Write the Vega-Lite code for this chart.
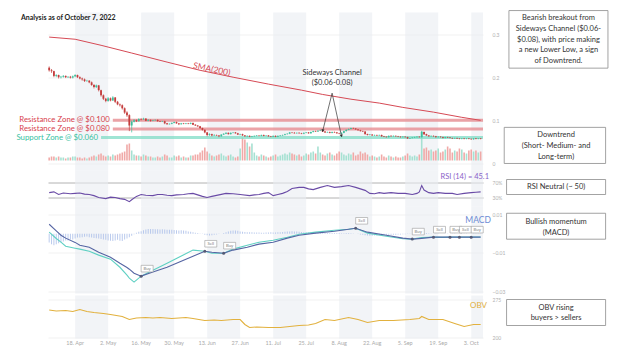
{
"$schema":"https://vega.github.io/schema/vega-lite/v6.json",
"padding":{"left":16,"top":9.5,"right":5,"bottom":5},
"background":"white",
"spacing":0,
"config":{"view":{"stroke":null},"font":"Lato","concat":{"spacing":0},"scale":{"continuousPadding":0},
"axis":{"domain":false,"ticks":false,"labelFontSize":5,"labelColor":"#b0b0b0","labelFont":"Lato","gridColor":"#ebebeb","gridWidth":0.7,"labelPadding":9}},
"datasets":{
"bands":[{"s":"2022-04-18","e":"2022-05-02"},{"s":"2022-05-16","e":"2022-05-30"},{"s":"2022-06-13","e":"2022-06-27"},{"s":"2022-07-11","e":"2022-07-25"},{"s":"2022-08-08","e":"2022-08-22"},{"s":"2022-09-05","e":"2022-09-19"},{"s":"2022-10-03","e":"2022-10-08"}],
"ticks":[{"d":"2022-04-18","t":"18. Apr"},{"d":"2022-05-02","t":"2. May"},{"d":"2022-05-16","t":"16. May"},{"d":"2022-05-30","t":"30. May"},{"d":"2022-06-13","t":"13. Jun"},{"d":"2022-06-27","t":"27. Jun"},{"d":"2022-07-11","t":"11. Jul"},{"d":"2022-07-25","t":"25. Jul"},{"d":"2022-08-08","t":"8. Aug"},{"d":"2022-08-22","t":"22. Aug"},{"d":"2022-09-05","t":"5. Sep"},{"d":"2022-09-19","t":"19. Sep"},{"d":"2022-10-03","t":"3. Oct"}],
"candles":[
{"d":"2022-04-07","o":0.222,"h":0.225,"l":0.213,"c":0.216,"v":3,"m":-0.0045},
{"d":"2022-04-08","o":0.216,"h":0.219,"l":0.210,"c":0.214,"v":4,"m":-0.0055},
{"d":"2022-04-09","o":0.214,"h":0.215,"l":0.200,"c":0.203,"v":4,"m":-0.006},
{"d":"2022-04-10","o":0.203,"h":0.207,"l":0.200,"c":0.205,"v":3,"m":-0.0055},
{"d":"2022-04-11","o":0.205,"h":0.206,"l":0.197,"c":0.200,"v":4,"m":-0.005},
{"d":"2022-04-12","o":0.200,"h":0.203,"l":0.197,"c":0.201,"v":3,"m":-0.0045},
{"d":"2022-04-13","o":0.201,"h":0.205,"l":0.199,"c":0.203,"v":3,"m":-0.004},
{"d":"2022-04-14","o":0.203,"h":0.204,"l":0.198,"c":0.200,"v":2,"m":-0.0035},
{"d":"2022-04-15","o":0.200,"h":0.202,"l":0.198,"c":0.201,"v":3,"m":-0.0035},
{"d":"2022-04-16","o":0.201,"h":0.203,"l":0.197,"c":0.199,"v":3,"m":-0.003},
{"d":"2022-04-17","o":0.199,"h":0.204,"l":0.197,"c":0.202,"v":4,"m":-0.003},
{"d":"2022-04-18","o":0.202,"h":0.207,"l":0.200,"c":0.205,"v":4,"m":-0.0025},
{"d":"2022-04-19","o":0.205,"h":0.206,"l":0.198,"c":0.200,"v":3,"m":-0.002},
{"d":"2022-04-20","o":0.200,"h":0.202,"l":0.195,"c":0.197,"v":3,"m":-0.002},
{"d":"2022-04-21","o":0.197,"h":0.199,"l":0.192,"c":0.195,"v":2,"m":-0.0018},
{"d":"2022-04-22","o":0.195,"h":0.197,"l":0.189,"c":0.191,"v":3,"m":-0.0016},
{"d":"2022-04-23","o":0.191,"h":0.194,"l":0.189,"c":0.192,"v":2,"m":-0.0015},
{"d":"2022-04-24","o":0.192,"h":0.193,"l":0.186,"c":0.188,"v":3,"m":-0.0018},
{"d":"2022-04-25","o":0.188,"h":0.190,"l":0.180,"c":0.182,"v":4,"m":-0.002},
{"d":"2022-04-26","o":0.182,"h":0.184,"l":0.174,"c":0.177,"v":5,"m":-0.0022},
{"d":"2022-04-27","o":0.177,"h":0.183,"l":0.175,"c":0.181,"v":4,"m":-0.0024},
{"d":"2022-04-28","o":0.181,"h":0.182,"l":0.167,"c":0.170,"v":6,"m":-0.0025},
{"d":"2022-04-29","o":0.170,"h":0.171,"l":0.155,"c":0.158,"v":7,"m":-0.0028},
{"d":"2022-04-30","o":0.158,"h":0.160,"l":0.147,"c":0.150,"v":5,"m":-0.003},
{"d":"2022-05-01","o":0.150,"h":0.152,"l":0.142,"c":0.145,"v":4,"m":-0.0032},
{"d":"2022-05-02","o":0.145,"h":0.154,"l":0.143,"c":0.151,"v":5,"m":-0.0035},
{"d":"2022-05-03","o":0.151,"h":0.153,"l":0.144,"c":0.146,"v":4,"m":-0.0036},
{"d":"2022-05-04","o":0.146,"h":0.156,"l":0.145,"c":0.153,"v":6,"m":-0.0038},
{"d":"2022-05-05","o":0.153,"h":0.154,"l":0.140,"c":0.143,"v":5,"m":-0.0035},
{"d":"2022-05-06","o":0.143,"h":0.145,"l":0.135,"c":0.137,"v":6,"m":-0.0032},
{"d":"2022-05-07","o":0.137,"h":0.139,"l":0.132,"c":0.135,"v":7,"m":-0.0036},
{"d":"2022-05-08","o":0.135,"h":0.137,"l":0.125,"c":0.128,"v":8,"m":-0.0038},
{"d":"2022-05-09","o":0.128,"h":0.130,"l":0.115,"c":0.118,"v":9,"m":-0.003},
{"d":"2022-05-10","o":0.118,"h":0.121,"l":0.108,"c":0.112,"v":16,"m":-0.0025},
{"d":"2022-05-11","o":0.112,"h":0.114,"l":0.075,"c":0.088,"v":17,"m":-0.0018},
{"d":"2022-05-12","o":0.088,"h":0.100,"l":0.072,"c":0.097,"v":10,"m":-0.001},
{"d":"2022-05-13","o":0.097,"h":0.103,"l":0.095,"c":0.100,"v":6,"m":-0.0003},
{"d":"2022-05-14","o":0.100,"h":0.102,"l":0.096,"c":0.098,"v":5,"m":0.0005},
{"d":"2022-05-15","o":0.098,"h":0.105,"l":0.097,"c":0.103,"v":5,"m":0.001},
{"d":"2022-05-16","o":0.103,"h":0.105,"l":0.100,"c":0.102,"v":4,"m":0.0013},
{"d":"2022-05-17","o":0.102,"h":0.106,"l":0.101,"c":0.104,"v":6,"m":0.0018},
{"d":"2022-05-18","o":0.104,"h":0.105,"l":0.098,"c":0.099,"v":5,"m":0.0022},
{"d":"2022-05-19","o":0.099,"h":0.103,"l":0.098,"c":0.101,"v":4,"m":0.0024},
{"d":"2022-05-20","o":0.101,"h":0.102,"l":0.097,"c":0.099,"v":4,"m":0.0025},
{"d":"2022-05-21","o":0.099,"h":0.101,"l":0.098,"c":0.100,"v":3,"m":0.0024},
{"d":"2022-05-22","o":0.100,"h":0.102,"l":0.099,"c":0.101,"v":3,"m":0.0023},
{"d":"2022-05-23","o":0.101,"h":0.102,"l":0.097,"c":0.098,"v":4,"m":0.0023},
{"d":"2022-05-24","o":0.098,"h":0.099,"l":0.096,"c":0.097,"v":3,"m":0.0022},
{"d":"2022-05-25","o":0.097,"h":0.099,"l":0.096,"c":0.098,"v":4,"m":0.0023},
{"d":"2022-05-26","o":0.098,"h":0.099,"l":0.091,"c":0.093,"v":6,"m":0.0022},
{"d":"2022-05-27","o":0.093,"h":0.094,"l":0.090,"c":0.091,"v":5,"m":0.0021},
{"d":"2022-05-28","o":0.091,"h":0.093,"l":0.090,"c":0.092,"v":3,"m":0.002},
{"d":"2022-05-29","o":0.092,"h":0.095,"l":0.091,"c":0.094,"v":3,"m":0.002},
{"d":"2022-05-30","o":0.094,"h":0.097,"l":0.093,"c":0.096,"v":5,"m":0.0019},
{"d":"2022-05-31","o":0.096,"h":0.097,"l":0.092,"c":0.093,"v":4,"m":0.0018},
{"d":"2022-06-01","o":0.093,"h":0.094,"l":0.089,"c":0.091,"v":5,"m":0.0017},
{"d":"2022-06-02","o":0.091,"h":0.094,"l":0.090,"c":0.093,"v":3,"m":0.0018},
{"d":"2022-06-03","o":0.093,"h":0.094,"l":0.091,"c":0.092,"v":4,"m":0.0016},
{"d":"2022-06-04","o":0.092,"h":0.094,"l":0.091,"c":0.093,"v":3,"m":0.0015},
{"d":"2022-06-05","o":0.093,"h":0.094,"l":0.091,"c":0.092,"v":3,"m":0.0012},
{"d":"2022-06-06","o":0.092,"h":0.095,"l":0.091,"c":0.094,"v":5,"m":0.001},
{"d":"2022-06-07","o":0.094,"h":0.095,"l":0.089,"c":0.090,"v":5,"m":0.0008},
{"d":"2022-06-08","o":0.090,"h":0.091,"l":0.087,"c":0.088,"v":6,"m":0.0005},
{"d":"2022-06-09","o":0.088,"h":0.089,"l":0.085,"c":0.086,"v":6,"m":0.0003},
{"d":"2022-06-10","o":0.086,"h":0.087,"l":0.080,"c":0.082,"v":8,"m":0.0001},
{"d":"2022-06-11","o":0.082,"h":0.083,"l":0.076,"c":0.078,"v":10,"m":-0.0002},
{"d":"2022-06-12","o":0.078,"h":0.079,"l":0.070,"c":0.072,"v":13,"m":-0.0005},
{"d":"2022-06-13","o":0.072,"h":0.073,"l":0.063,"c":0.066,"v":9,"m":-0.0008},
{"d":"2022-06-14","o":0.066,"h":0.070,"l":0.064,"c":0.068,"v":7,"m":-0.0009},
{"d":"2022-06-15","o":0.068,"h":0.069,"l":0.063,"c":0.065,"v":5,"m":-0.0008},
{"d":"2022-06-16","o":0.065,"h":0.068,"l":0.064,"c":0.066,"v":4,"m":-0.0006},
{"d":"2022-06-17","o":0.066,"h":0.067,"l":0.064,"c":0.065,"v":5,"m":-0.0004},
{"d":"2022-06-18","o":0.065,"h":0.066,"l":0.061,"c":0.063,"v":6,"m":-0.0002},
{"d":"2022-06-19","o":0.063,"h":0.068,"l":0.062,"c":0.067,"v":7,"m":0},
{"d":"2022-06-20","o":0.067,"h":0.070,"l":0.066,"c":0.069,"v":5,"m":0.0004},
{"d":"2022-06-21","o":0.069,"h":0.072,"l":0.068,"c":0.071,"v":4,"m":0.0008},
{"d":"2022-06-22","o":0.071,"h":0.072,"l":0.067,"c":0.068,"v":5,"m":0.0012},
{"d":"2022-06-23","o":0.068,"h":0.072,"l":0.067,"c":0.071,"v":6,"m":0.0015},
{"d":"2022-06-24","o":0.071,"h":0.073,"l":0.070,"c":0.072,"v":4,"m":0.0017},
{"d":"2022-06-25","o":0.072,"h":0.073,"l":0.069,"c":0.070,"v":3,"m":0.0016},
{"d":"2022-06-26","o":0.070,"h":0.071,"l":0.066,"c":0.067,"v":4,"m":0.0015},
{"d":"2022-06-27","o":0.067,"h":0.069,"l":0.065,"c":0.068,"v":12,"m":0.0012},
{"d":"2022-06-28","o":0.068,"h":0.069,"l":0.064,"c":0.065,"v":23,"m":0.001},
{"d":"2022-06-29","o":0.065,"h":0.066,"l":0.062,"c":0.063,"v":21,"m":0.0009},
{"d":"2022-06-30","o":0.063,"h":0.065,"l":0.061,"c":0.064,"v":18,"m":0.0008},
{"d":"2022-07-01","o":0.064,"h":0.065,"l":0.061,"c":0.062,"v":14,"m":0.0007},
{"d":"2022-07-02","o":0.062,"h":0.064,"l":0.061,"c":0.063,"v":17,"m":0.0007},
{"d":"2022-07-03","o":0.063,"h":0.065,"l":0.062,"c":0.064,"v":8,"m":0.0006},
{"d":"2022-07-04","o":0.064,"h":0.066,"l":0.063,"c":0.065,"v":5,"m":0.0006},
{"d":"2022-07-05","o":0.065,"h":0.066,"l":0.063,"c":0.064,"v":4,"m":0.0006},
{"d":"2022-07-06","o":0.064,"h":0.067,"l":0.063,"c":0.066,"v":6,"m":0.0005},
{"d":"2022-07-07","o":0.066,"h":0.067,"l":0.063,"c":0.064,"v":5,"m":0.0005},
{"d":"2022-07-08","o":0.064,"h":0.066,"l":0.063,"c":0.065,"v":4,"m":0.0006},
{"d":"2022-07-09","o":0.065,"h":0.066,"l":0.062,"c":0.063,"v":3,"m":0.0006},
{"d":"2022-07-10","o":0.063,"h":0.064,"l":0.061,"c":0.062,"v":4,"m":0.0007},
{"d":"2022-07-11","o":0.062,"h":0.065,"l":0.061,"c":0.064,"v":5,"m":0.0006},
{"d":"2022-07-12","o":0.064,"h":0.065,"l":0.061,"c":0.062,"v":6,"m":0.0006},
{"d":"2022-07-13","o":0.062,"h":0.065,"l":0.061,"c":0.064,"v":4,"m":0.0007},
{"d":"2022-07-14","o":0.064,"h":0.066,"l":0.063,"c":0.065,"v":5,"m":0.0008},
{"d":"2022-07-15","o":0.065,"h":0.067,"l":0.064,"c":0.066,"v":6,"m":0.0009},
{"d":"2022-07-16","o":0.066,"h":0.069,"l":0.065,"c":0.068,"v":7,"m":0.001},
{"d":"2022-07-17","o":0.068,"h":0.070,"l":0.067,"c":0.069,"v":6,"m":0.0011},
{"d":"2022-07-18","o":0.069,"h":0.073,"l":0.068,"c":0.072,"v":8,"m":0.0012},
{"d":"2022-07-19","o":0.072,"h":0.073,"l":0.070,"c":0.071,"v":7,"m":0.0013},
{"d":"2022-07-20","o":0.071,"h":0.073,"l":0.069,"c":0.070,"v":6,"m":0.0012},
{"d":"2022-07-21","o":0.070,"h":0.072,"l":0.069,"c":0.071,"v":5,"m":0.0011},
{"d":"2022-07-22","o":0.071,"h":0.072,"l":0.069,"c":0.070,"v":6,"m":0.001},
{"d":"2022-07-23","o":0.070,"h":0.071,"l":0.068,"c":0.069,"v":4,"m":0.0009},
{"d":"2022-07-24","o":0.069,"h":0.072,"l":0.068,"c":0.071,"v":5,"m":0.0008},
{"d":"2022-07-25","o":0.071,"h":0.073,"l":0.070,"c":0.072,"v":7,"m":0.0007},
{"d":"2022-07-26","o":0.072,"h":0.073,"l":0.069,"c":0.070,"v":6,"m":0.0006},
{"d":"2022-07-27","o":0.070,"h":0.074,"l":0.069,"c":0.073,"v":8,"m":0.0006},
{"d":"2022-07-28","o":0.073,"h":0.076,"l":0.072,"c":0.075,"v":9,"m":0.0005},
{"d":"2022-07-29","o":0.075,"h":0.076,"l":0.073,"c":0.074,"v":7,"m":0.0005},
{"d":"2022-07-30","o":0.074,"h":0.077,"l":0.073,"c":0.076,"v":14,"m":0.0004},
{"d":"2022-07-31","o":0.076,"h":0.079,"l":0.075,"c":0.077,"v":8,"m":0.0004},
{"d":"2022-08-01","o":0.077,"h":0.078,"l":0.073,"c":0.074,"v":6,"m":0.0004},
{"d":"2022-08-02","o":0.074,"h":0.075,"l":0.071,"c":0.072,"v":5,"m":0.0004},
{"d":"2022-08-03","o":0.072,"h":0.074,"l":0.071,"c":0.073,"v":7,"m":0.0003},
{"d":"2022-08-04","o":0.073,"h":0.074,"l":0.070,"c":0.071,"v":8,"m":0.0003},
{"d":"2022-08-05","o":0.071,"h":0.074,"l":0.070,"c":0.073,"v":6,"m":0.0003},
{"d":"2022-08-06","o":0.073,"h":0.074,"l":0.071,"c":0.072,"v":5,"m":0.0004},
{"d":"2022-08-07","o":0.072,"h":0.073,"l":0.069,"c":0.070,"v":7,"m":0.0003},
{"d":"2022-08-08","o":0.070,"h":0.071,"l":0.068,"c":0.069,"v":9,"m":0.0003},
{"d":"2022-08-09","o":0.069,"h":0.072,"l":0.068,"c":0.071,"v":8,"m":0.0002},
{"d":"2022-08-10","o":0.071,"h":0.076,"l":0.070,"c":0.075,"v":6,"m":0.0002},
{"d":"2022-08-11","o":0.075,"h":0.079,"l":0.074,"c":0.078,"v":5,"m":0.0003},
{"d":"2022-08-12","o":0.078,"h":0.081,"l":0.077,"c":0.080,"v":7,"m":0.0003},
{"d":"2022-08-13","o":0.080,"h":0.083,"l":0.079,"c":0.082,"v":6,"m":0.0002},
{"d":"2022-08-14","o":0.082,"h":0.083,"l":0.080,"c":0.081,"v":8,"m":0.0001},
{"d":"2022-08-15","o":0.081,"h":0.082,"l":0.078,"c":0.079,"v":5,"m":0},
{"d":"2022-08-16","o":0.079,"h":0.080,"l":0.076,"c":0.077,"v":6,"m":-0.0002},
{"d":"2022-08-17","o":0.077,"h":0.078,"l":0.074,"c":0.075,"v":9,"m":-0.0004},
{"d":"2022-08-18","o":0.075,"h":0.076,"l":0.073,"c":0.074,"v":7,"m":-0.0006},
{"d":"2022-08-19","o":0.074,"h":0.075,"l":0.067,"c":0.068,"v":8,"m":-0.0008},
{"d":"2022-08-20","o":0.068,"h":0.069,"l":0.065,"c":0.066,"v":6,"m":-0.0009},
{"d":"2022-08-21","o":0.066,"h":0.068,"l":0.065,"c":0.067,"v":4,"m":-0.001},
{"d":"2022-08-22","o":0.067,"h":0.068,"l":0.064,"c":0.065,"v":5,"m":-0.001},
{"d":"2022-08-23","o":0.065,"h":0.067,"l":0.064,"c":0.066,"v":4,"m":-0.0009},
{"d":"2022-08-24","o":0.066,"h":0.067,"l":0.064,"c":0.065,"v":3,"m":-0.0009},
{"d":"2022-08-25","o":0.065,"h":0.067,"l":0.064,"c":0.066,"v":4,"m":-0.0008},
{"d":"2022-08-26","o":0.066,"h":0.067,"l":0.062,"c":0.063,"v":6,"m":-0.0008},
{"d":"2022-08-27","o":0.063,"h":0.064,"l":0.061,"c":0.062,"v":4,"m":-0.0007},
{"d":"2022-08-28","o":0.062,"h":0.063,"l":0.060,"c":0.061,"v":3,"m":-0.0007},
{"d":"2022-08-29","o":0.061,"h":0.065,"l":0.060,"c":0.064,"v":5,"m":-0.0006},
{"d":"2022-08-30","o":0.064,"h":0.065,"l":0.062,"c":0.063,"v":4,"m":-0.0006},
{"d":"2022-08-31","o":0.063,"h":0.065,"l":0.062,"c":0.064,"v":3,"m":-0.0005},
{"d":"2022-09-01","o":0.064,"h":0.065,"l":0.062,"c":0.063,"v":4,"m":-0.0005},
{"d":"2022-09-02","o":0.063,"h":0.064,"l":0.061,"c":0.062,"v":3,"m":-0.0004},
{"d":"2022-09-03","o":0.062,"h":0.063,"l":0.060,"c":0.061,"v":3,"m":-0.0004},
{"d":"2022-09-04","o":0.061,"h":0.063,"l":0.060,"c":0.062,"v":4,"m":-0.0003},
{"d":"2022-09-05","o":0.062,"h":0.063,"l":0.060,"c":0.061,"v":5,"m":-0.0003},
{"d":"2022-09-06","o":0.061,"h":0.062,"l":0.057,"c":0.058,"v":7,"m":-0.0002},
{"d":"2022-09-07","o":0.058,"h":0.060,"l":0.057,"c":0.059,"v":5,"m":-0.0001},
{"d":"2022-09-08","o":0.059,"h":0.061,"l":0.058,"c":0.060,"v":4,"m":0.0001},
{"d":"2022-09-09","o":0.060,"h":0.062,"l":0.059,"c":0.061,"v":5,"m":0.0002},
{"d":"2022-09-10","o":0.061,"h":0.063,"l":0.060,"c":0.062,"v":4,"m":0.0003},
{"d":"2022-09-11","o":0.062,"h":0.063,"l":0.060,"c":0.061,"v":6,"m":0.0004},
{"d":"2022-09-12","o":0.061,"h":0.075,"l":0.060,"c":0.073,"v":30,"m":0.0005},
{"d":"2022-09-13","o":0.073,"h":0.074,"l":0.066,"c":0.068,"v":12,"m":0.0004},
{"d":"2022-09-14","o":0.068,"h":0.069,"l":0.064,"c":0.065,"v":13,"m":0.0003},
{"d":"2022-09-15","o":0.065,"h":0.066,"l":0.062,"c":0.063,"v":10,"m":0.0002},
{"d":"2022-09-16","o":0.063,"h":0.065,"l":0.062,"c":0.064,"v":11,"m":0.0001},
{"d":"2022-09-17","o":0.064,"h":0.065,"l":0.062,"c":0.063,"v":9,"m":0},
{"d":"2022-09-18","o":0.063,"h":0.064,"l":0.060,"c":0.061,"v":10,"m":-0.0001},
{"d":"2022-09-19","o":0.061,"h":0.063,"l":0.060,"c":0.062,"v":12,"m":-0.0001},
{"d":"2022-09-20","o":0.062,"h":0.063,"l":0.060,"c":0.061,"v":8,"m":0},
{"d":"2022-09-21","o":0.061,"h":0.062,"l":0.058,"c":0.059,"v":9,"m":0},
{"d":"2022-09-22","o":0.059,"h":0.062,"l":0.058,"c":0.061,"v":11,"m":0.0001},
{"d":"2022-09-23","o":0.061,"h":0.062,"l":0.059,"c":0.060,"v":14,"m":0.0001},
{"d":"2022-09-24","o":0.060,"h":0.061,"l":0.058,"c":0.059,"v":12,"m":0},
{"d":"2022-09-25","o":0.059,"h":0.060,"l":0.057,"c":0.058,"v":8,"m":-0.0001},
{"d":"2022-09-26","o":0.058,"h":0.060,"l":0.057,"c":0.059,"v":10,"m":-0.0001},
{"d":"2022-09-27","o":0.059,"h":0.060,"l":0.057,"c":0.058,"v":9,"m":0},
{"d":"2022-09-28","o":0.058,"h":0.059,"l":0.056,"c":0.057,"v":12,"m":0},
{"d":"2022-09-29","o":0.057,"h":0.059,"l":0.056,"c":0.058,"v":11,"m":0.0001},
{"d":"2022-09-30","o":0.058,"h":0.059,"l":0.056,"c":0.057,"v":8,"m":0.0001},
{"d":"2022-10-01","o":0.057,"h":0.059,"l":0.056,"c":0.058,"v":7,"m":0.0001},
{"d":"2022-10-02","o":0.058,"h":0.059,"l":0.056,"c":0.057,"v":10,"m":0},
{"d":"2022-10-03","o":0.057,"h":0.058,"l":0.055,"c":0.056,"v":11,"m":0},
{"d":"2022-10-04","o":0.056,"h":0.059,"l":0.055,"c":0.058,"v":9,"m":0.0001},
{"d":"2022-10-05","o":0.058,"h":0.059,"l":0.056,"c":0.057,"v":10,"m":0.0001},
{"d":"2022-10-06","o":0.057,"h":0.059,"l":0.056,"c":0.058,"v":8,"m":0.0001},
{"d":"2022-10-07","o":0.058,"h":0.059,"l":0.056,"c":0.057,"v":9,"m":0.0001}],
"sma":[{"d":"2022-04-07","p":0.293},{"d":"2022-04-18","p":0.288},{"d":"2022-04-29","p":0.274},{"d":"2022-05-12","p":0.256},{"d":"2022-05-27","p":0.235},{"d":"2022-06-10","p":0.216},{"d":"2022-06-24","p":0.2},{"d":"2022-07-09","p":0.184},{"d":"2022-07-23","p":0.17},{"d":"2022-08-01","p":0.16},{"d":"2022-08-13","p":0.149},{"d":"2022-08-25","p":0.14},{"d":"2022-09-04","p":0.13},{"d":"2022-09-17","p":0.119},{"d":"2022-09-29","p":0.107},{"d":"2022-10-07","p":0.1}],
"zones":[{"s":"2022-05-04","e":"2022-10-08","p":0.1,"k":"R","t":"Resistance Zone @ $0.100"},{"s":"2022-05-04","e":"2022-10-08","p":0.08,"k":"R","t":"Resistance Zone @ $0.080"},{"s":"2022-04-29","e":"2022-10-08","p":0.06,"k":"S","t":"Support Zone @ $0.060"}],
"rsi":[{"d":"2022-04-07","r":43},{"d":"2022-04-09","r":45},{"d":"2022-04-11","r":38},{"d":"2022-04-13","r":42},{"d":"2022-04-16","r":40},{"d":"2022-04-18","r":41},{"d":"2022-04-20","r":42},{"d":"2022-04-22","r":39},{"d":"2022-04-24","r":38},{"d":"2022-04-26","r":35},{"d":"2022-04-28","r":30},{"d":"2022-05-01","r":27},{"d":"2022-05-03","r":31},{"d":"2022-05-05","r":30},{"d":"2022-05-07","r":27},{"d":"2022-05-09","r":25},{"d":"2022-05-11","r":19},{"d":"2022-05-12","r":24},{"d":"2022-05-14","r":33},{"d":"2022-05-16","r":38},{"d":"2022-05-18","r":36},{"d":"2022-05-21","r":35},{"d":"2022-05-23","r":38},{"d":"2022-05-25","r":38},{"d":"2022-05-27","r":36},{"d":"2022-05-29","r":35},{"d":"2022-05-31","r":37},{"d":"2022-06-03","r":38},{"d":"2022-06-05","r":40},{"d":"2022-06-07","r":41},{"d":"2022-06-09","r":37},{"d":"2022-06-11","r":33},{"d":"2022-06-13","r":30},{"d":"2022-06-15","r":33},{"d":"2022-06-18","r":37},{"d":"2022-06-21","r":41},{"d":"2022-06-24","r":40},{"d":"2022-06-27","r":38},{"d":"2022-07-01","r":35},{"d":"2022-07-03","r":37},{"d":"2022-07-05","r":38},{"d":"2022-07-07","r":41},{"d":"2022-07-09","r":43},{"d":"2022-07-11","r":35},{"d":"2022-07-13","r":38},{"d":"2022-07-15","r":41},{"d":"2022-07-17","r":46},{"d":"2022-07-19","r":54},{"d":"2022-07-22","r":57},{"d":"2022-07-24","r":57},{"d":"2022-07-26","r":53},{"d":"2022-07-28","r":51},{"d":"2022-07-31","r":57},{"d":"2022-08-03","r":62},{"d":"2022-08-06","r":57},{"d":"2022-08-09","r":59},{"d":"2022-08-12","r":62},{"d":"2022-08-15","r":57},{"d":"2022-08-17","r":53},{"d":"2022-08-19","r":49},{"d":"2022-08-21","r":41},{"d":"2022-08-23","r":40},{"d":"2022-08-25","r":43},{"d":"2022-08-27","r":41},{"d":"2022-08-30","r":43},{"d":"2022-09-02","r":41},{"d":"2022-09-05","r":41},{"d":"2022-09-08","r":38},{"d":"2022-09-10","r":41},{"d":"2022-09-11","r":45},{"d":"2022-09-12","r":62},{"d":"2022-09-13","r":50},{"d":"2022-09-15","r":43},{"d":"2022-09-17","r":41},{"d":"2022-09-19","r":43},{"d":"2022-09-22","r":41},{"d":"2022-09-25","r":41},{"d":"2022-09-27","r":38},{"d":"2022-09-30","r":41},{"d":"2022-10-03","r":43},{"d":"2022-10-05","r":44},{"d":"2022-10-07","r":45.1}],
"macd":[{"d":"2022-04-07","m":0.0008,"s":0.0049},{"d":"2022-04-10","m":-0.0025,"s":0.0015},{"d":"2022-04-12","m":-0.0044,"s":-0.0008},{"d":"2022-04-14","m":-0.0065,"s":-0.0023},{"d":"2022-04-18","m":-0.0075,"s":-0.0045},{"d":"2022-04-20","m":-0.008,"s":-0.006},{"d":"2022-04-24","m":-0.0091,"s":-0.007},{"d":"2022-04-28","m":-0.0111,"s":-0.0096},{"d":"2022-05-03","m":-0.0132,"s":-0.0122},{"d":"2022-05-07","m":-0.0174,"s":-0.0153},{"d":"2022-05-10","m":-0.0215,"s":-0.0175},{"d":"2022-05-11","m":-0.023,"s":-0.0184},{"d":"2022-05-13","m":-0.0251,"s":-0.0205},{"d":"2022-05-16","m":-0.022,"s":-0.022},{"d":"2022-05-21","m":-0.0189,"s":-0.0199},{"d":"2022-05-27","m":-0.0153,"s":-0.0174},{"d":"2022-06-01","m":-0.0122,"s":-0.0148},{"d":"2022-06-07","m":-0.0085,"s":-0.0117},{"d":"2022-06-12","m":-0.0091,"s":-0.0091},{"d":"2022-06-15","m":-0.0101,"s":-0.0096},{"d":"2022-06-20","m":-0.0101,"s":-0.0101},{"d":"2022-06-24","m":-0.008,"s":-0.0085},{"d":"2022-06-30","m":-0.006,"s":-0.007},{"d":"2022-07-05","m":-0.0044,"s":-0.0054},{"d":"2022-07-11","m":-0.0034,"s":-0.0044},{"d":"2022-07-17","m":-0.0018,"s":-0.0023},{"d":"2022-07-22","m":-0.0003,"s":-0.0008},{"d":"2022-07-29","m":0.0008,"s":0.0003},{"d":"2022-08-06","m":0.0018,"s":0.0013},{"d":"2022-08-12","m":0.0023,"s":0.0023},{"d":"2022-08-15","m":0.0028,"s":0.0028},{"d":"2022-08-20","m":0.0003,"s":0.0008},{"d":"2022-08-28","m":-0.0013,"s":-0.0008},{"d":"2022-09-04","m":-0.0026,"s":-0.0023},{"d":"2022-09-08","m":-0.0028,"s":-0.0028},{"d":"2022-09-12","m":-0.002,"s":-0.0024},{"d":"2022-09-17","m":-0.0018,"s":-0.0018},{"d":"2022-09-21","m":-0.0019,"s":-0.0018},{"d":"2022-09-24","m":-0.0018,"s":-0.0018},{"d":"2022-09-28","m":-0.0018,"s":-0.0018},{"d":"2022-10-03","m":-0.0018,"s":-0.0018},{"d":"2022-10-07","m":-0.0017,"s":-0.0018}],
"signals":[{"d":"2022-05-16","v":-0.022,"t":"Buy"},{"d":"2022-06-12","v":-0.0091,"t":"Sell"},{"d":"2022-06-20","v":-0.0101,"t":"Buy"},{"d":"2022-08-15","v":0.0028,"t":"Sell"},{"d":"2022-09-08","v":-0.0028,"t":"Buy"},{"d":"2022-09-17","v":-0.0018,"t":"Sell"},{"d":"2022-09-24","v":-0.0018,"t":"Buy"},{"d":"2022-09-28","v":-0.0018,"t":"Sell"},{"d":"2022-10-03","v":-0.0018,"t":"Buy"}],
"obv":[{"d":"2022-04-07","b":254},{"d":"2022-04-10","b":252},{"d":"2022-04-14","b":253},{"d":"2022-04-17","b":251},{"d":"2022-04-20","b":255},{"d":"2022-04-23","b":251},{"d":"2022-04-26","b":249},{"d":"2022-04-30","b":247},{"d":"2022-05-03","b":245},{"d":"2022-05-08","b":241},{"d":"2022-05-11","b":235},{"d":"2022-05-14","b":238},{"d":"2022-05-18","b":239},{"d":"2022-05-21","b":238},{"d":"2022-05-24","b":239},{"d":"2022-05-29","b":237},{"d":"2022-06-04","b":239},{"d":"2022-06-07","b":237},{"d":"2022-06-12","b":233},{"d":"2022-06-16","b":234},{"d":"2022-06-19","b":233},{"d":"2022-06-24","b":235},{"d":"2022-06-27","b":235},{"d":"2022-06-29","b":225},{"d":"2022-07-01","b":219},{"d":"2022-07-04","b":220},{"d":"2022-07-09","b":219},{"d":"2022-07-14","b":219},{"d":"2022-07-18","b":221},{"d":"2022-07-22","b":223},{"d":"2022-07-26","b":224},{"d":"2022-07-29","b":227},{"d":"2022-08-02","b":235},{"d":"2022-08-06","b":233},{"d":"2022-08-12","b":239},{"d":"2022-08-16","b":235},{"d":"2022-08-20","b":229},{"d":"2022-08-25","b":233},{"d":"2022-08-31","b":233},{"d":"2022-09-07","b":235},{"d":"2022-09-11","b":237},{"d":"2022-09-12","b":241},{"d":"2022-09-15","b":235},{"d":"2022-09-21","b":235},{"d":"2022-09-26","b":227},{"d":"2022-09-30","b":221},{"d":"2022-10-04","b":225},{"d":"2022-10-07","b":225}]
},
"vconcat":[
{"width":435,"height":158,
"layer":[
{"data":{"name":"bands"},"mark":{"type":"rect","color":"#e9ecf1","opacity":0.6},
"encoding":{"x":{"field":"s","type":"temporal","title":null,"axis":null,"scale":{"type":"utc","padding":0,"domain":[{"year":2022,"month":4,"date":6,"hours":12,"utc":true},{"year":2022,"month":10,"date":8,"utc":true}]}},"x2":{"field":"e"}}},
{"data":{"name":"candles"},"mark":{"type":"bar","size":1.6},
"encoding":{"x":{"field":"d","type":"temporal","title":null},"y":{"field":"v","type":"quantitative","title":null,"axis":null,"scale":{"domain":[-10,148],"nice":false,"zero":false}},"y2":{"datum":0},
"color":{"condition":{"test":"datum.c >= datum.o","value":"#a6e1d2"},"value":"#f0a9a7"}}},
{"layer":[
{"data":{"name":"zones"},"mark":{"type":"rule","strokeWidth":3,"opacity":0.75},
"encoding":{"x":{"field":"s","type":"temporal","title":null},"x2":{"field":"e"},
"y":{"field":"p","type":"quantitative","title":null,"scale":{"domain":[-0.0163,0.35],"nice":false,"zero":false},"axis":{"orient":"right","values":[0,0.05,0.1,0.15,0.2,0.25,0.3,0.35],"format":"~g","grid":true}},
"stroke":{"field":"k","type":"nominal","legend":null,"scale":{"domain":["R","S"],"range":["#e6868b","#7fdcc5"]}}}},
{"data":{"name":"zones"},"mark":{"type":"text","align":"right","baseline":"middle","dx":-3,"fontSize":7.8},
"encoding":{"x":{"field":"s","type":"temporal","title":null},"y":{"field":"p","type":"quantitative","title":null},"text":{"field":"t"},
"fill":{"field":"k","type":"nominal","legend":null,"scale":{"domain":["R","S"],"range":["#d8404c","#38c2a2"]}}}},
{"data":{"name":"sma"},"mark":{"type":"line","color":"#d64a55","strokeWidth":1},
"encoding":{"x":{"field":"d","type":"temporal","title":null},"y":{"field":"p","type":"quantitative","title":null}}},
{"data":{"values":[{"d":"2022-06-15","p":0.219,"t":"SMA(200)"}]},"mark":{"type":"text","angle":12,"fontSize":8.5,"color":"#d64a55","baseline":"middle"},
"encoding":{"x":{"field":"d","type":"temporal","title":null},"y":{"field":"p","type":"quantitative","title":null},"text":{"field":"t"}}},
{"data":{"name":"candles"},"mark":{"type":"rule","strokeWidth":0.7},
"encoding":{"x":{"field":"d","type":"temporal","title":null},"y":{"field":"l","type":"quantitative","title":null},"y2":{"field":"h"},
"color":{"condition":{"test":"datum.c >= datum.o","value":"#3dbf9c"},"value":"#c43c3c"}}},
{"data":{"name":"candles"},"mark":{"type":"bar","size":1.8},
"encoding":{"x":{"field":"d","type":"temporal","title":null},"y":{"field":"o","type":"quantitative","title":null},"y2":{"field":"c"},
"color":{"condition":{"test":"datum.c >= datum.o","value":"#3dbf9c"},"value":"#c43c3c"}}},
{"data":{"values":[{"d":"2022-08-05","p":0.163,"d2":"2022-08-01","p2":0.075},{"d":"2022-08-05","p":0.163,"d2":"2022-08-09","p2":0.063}]},"mark":{"type":"rule","strokeWidth":0.7,"color":"#333333"},
"encoding":{"x":{"field":"d","type":"temporal","title":null},"y":{"field":"p","type":"quantitative","title":null},"x2":{"field":"d2"},"y2":{"field":"p2"}}},
{"data":{"values":[{"d2":"2022-08-01","p2":0.076,"side":"L"},{"d2":"2022-08-09","p2":0.064,"side":"R"}]},"mark":{"type":"point","shape":"triangle-down","filled":true,"size":10,"color":"#333333","opacity":1},
"encoding":{"x":{"field":"d2","type":"temporal","title":null},"y":{"field":"p2","type":"quantitative","title":null},"angle":{"condition":{"test":"datum.side === 'L'","value":14},"value":346}}},
{"data":{"values":[{"d":"2022-08-05","p":0.219,"t":"Sideways Channel\n($0.06-0.08)"}]},"mark":{"type":"text","lineBreak":"\n","lineHeight":10,"fontSize":7.5,"color":"#333333","baseline":"top","align":"center"},
"encoding":{"x":{"field":"d","type":"temporal","title":null},"y":{"field":"p","type":"quantitative","title":null},"text":{"field":"t"}}},
{"data":{"values":[{"d":"2022-03-26","p":0.337,"t":"Analysis as of October 7, 2022"}]},"mark":{"type":"text","fontSize":7,"fontWeight":"bold","color":"#222222","align":"left","baseline":"middle"},
"encoding":{"x":{"field":"d","type":"temporal","title":null},"y":{"field":"p","type":"quantitative","title":null},"text":{"field":"t"}}},
{"data":{"values":[{"x1":"2022-10-19","x2":"2022-11-30","y1":0.3545,"y2":0.221},{"x1":"2022-10-17","x2":"2022-11-29","y1":0.0837,"y2":0}]},"mark":{"type":"rect","fill":"white","stroke":"#8c8c8c","strokeWidth":0.8},
"encoding":{"x":{"field":"x1","type":"temporal","title":null},"x2":{"field":"x2"},"y":{"field":"y1","type":"quantitative","title":null},"y2":{"field":"y2"}}},
{"data":{"values":[{"xc":"2022-11-09","yc":0.3364,"t":"Bearish breakout from\nSideways Channel ($0.06-\n$0.08), with price making\na new Lower Low, a sign\nof Downtrend."},{"xc":"2022-11-08","yc":0.065,"t":"Downtrend\n(Short- Medium- and\nLong-term)"}]},"mark":{"type":"text","lineBreak":"\n","lineHeight":10.7,"fontSize":7.5,"color":"#333333","align":"center","baseline":"middle"},
"encoding":{"x":{"field":"xc","type":"temporal","title":null},"y":{"field":"yc","type":"quantitative","title":null},"text":{"field":"t"}}}
]}
],
"resolve":{"scale":{"y":"independent"}}},
{"width":435,"height":36,
"layer":[
{"data":{"name":"bands"},"mark":{"type":"rect","color":"#e9ecf1","opacity":0.6},
"encoding":{"x":{"field":"s","type":"temporal","title":null,"axis":null,"scale":{"type":"utc","padding":0,"domain":[{"year":2022,"month":4,"date":6,"hours":12,"utc":true},{"year":2022,"month":10,"date":8,"utc":true}]}},"x2":{"field":"e"}}},
{"data":{"name":"rsi"},"mark":{"type":"line","color":"#6a4ba6","strokeWidth":1.1},
"encoding":{"x":{"field":"d","type":"temporal","title":null},"y":{"field":"r","type":"quantitative","title":null,"scale":{"domain":[6,102],"nice":false,"zero":false},"axis":{"orient":"right","values":[30,70],"labelExpr":"datum.value + '%'","grid":true,"gridColor":"#a9a9a9","gridWidth":0.9}}}},
{"data":{"values":[{"d":"2022-10-08","r":84,"t":"RSI (14) = 45.1"}]},"mark":{"type":"text","align":"right","baseline":"middle","dx":6,"fontSize":7.5,"color":"#8a5fc9"},
"encoding":{"x":{"field":"d","type":"temporal","title":null},"y":{"field":"r","type":"quantitative","title":null},"text":{"field":"t"}}},
{"data":{"values":[{"x1":"2022-10-18","x2":"2022-11-29","y1":78,"y2":38}]},"mark":{"type":"rect","fill":"white","stroke":"#8c8c8c","strokeWidth":0.8},
"encoding":{"x":{"field":"x1","type":"temporal","title":null},"x2":{"field":"x2"},"y":{"field":"y1","type":"quantitative","title":null},"y2":{"field":"y2"}}},
{"data":{"values":[{"xc":"2022-11-08","yc":58,"t":"RSI Neutral (~ 50)"}]},"mark":{"type":"text","fontSize":7.5,"color":"#333333","align":"center","baseline":"middle"},
"encoding":{"x":{"field":"xc","type":"temporal","title":null},"y":{"field":"yc","type":"quantitative","title":null},"text":{"field":"t"}}}
]},
{"width":435,"height":87,
"layer":[
{"data":{"name":"bands"},"mark":{"type":"rect","color":"#e9ecf1","opacity":0.6},
"encoding":{"x":{"field":"s","type":"temporal","title":null,"axis":null,"scale":{"type":"utc","padding":0,"domain":[{"year":2022,"month":4,"date":6,"hours":12,"utc":true},{"year":2022,"month":10,"date":8,"utc":true}]}},"x2":{"field":"e"}}},
{"data":{"name":"candles"},"mark":{"type":"bar","size":1,"color":"#a9bde8","opacity":0.8},
"encoding":{"x":{"field":"d","type":"temporal","title":null},"y":{"field":"m","type":"quantitative","title":null,"scale":{"domain":[-0.031,0.0141],"nice":false,"zero":false},"axis":{"orient":"right","values":[-0.03,-0.02,-0.01,0,0.01],"format":"~g","grid":true}},"y2":{"datum":0}}},
{"data":{"name":"macd"},"mark":{"type":"line","color":"#5fd0c3","strokeWidth":1.1},
"encoding":{"x":{"field":"d","type":"temporal","title":null},"y":{"field":"m","type":"quantitative","title":null}}},
{"data":{"name":"macd"},"mark":{"type":"line","color":"#5565a3","strokeWidth":1.1},
"encoding":{"x":{"field":"d","type":"temporal","title":null},"y":{"field":"s","type":"quantitative","title":null}}},
{"data":{"name":"signals"},"mark":{"type":"point","filled":true,"size":9,"color":"#555a75","opacity":1},
"encoding":{"x":{"field":"d","type":"temporal","title":null},"y":{"field":"v","type":"quantitative","title":null}}},
{"data":{"name":"signals"},"mark":{"type":"point","shape":"M-1,-0.55H1V0.55H-1Z","size":144,"filled":false,"fill":"white","fillOpacity":1,"stroke":"#9a9a9a","strokeWidth":0.6,"opacity":1,"xOffset":6,"yOffset":-7.5},
"encoding":{"x":{"field":"d","type":"temporal","title":null},"y":{"field":"v","type":"quantitative","title":null}}},
{"data":{"name":"signals"},"mark":{"type":"text","fontSize":4.3,"color":"#808080","dx":6,"dy":-7.5,"align":"center","baseline":"middle"},
"encoding":{"x":{"field":"d","type":"temporal","title":null},"y":{"field":"v","type":"quantitative","title":null},"text":{"field":"t"}}},
{"data":{"values":[{"d":"2022-10-08","v":0.007,"t":"MACD"}]},"mark":{"type":"text","align":"right","baseline":"middle","dx":8,"fontSize":8.5,"color":"#6d8cd4"},
"encoding":{"x":{"field":"d","type":"temporal","title":null},"y":{"field":"v","type":"quantitative","title":null},"text":{"field":"t"}}},
{"data":{"values":[{"x1":"2022-10-18","x2":"2022-11-29","y1":0.0106,"y2":-0.00285}]},"mark":{"type":"rect","fill":"white","stroke":"#8c8c8c","strokeWidth":0.8},
"encoding":{"x":{"field":"x1","type":"temporal","title":null},"x2":{"field":"x2"},"y":{"field":"y1","type":"quantitative","title":null},"y2":{"field":"y2"}}},
{"data":{"values":[{"xc":"2022-11-08","yc":0.006,"t":"Bullish momentum\n(MACD)"}]},"mark":{"type":"text","lineBreak":"\n","lineHeight":10.5,"fontSize":7.5,"color":"#333333","align":"center","baseline":"middle"},
"encoding":{"x":{"field":"xc","type":"temporal","title":null},"y":{"field":"yc","type":"quantitative","title":null},"text":{"field":"t"}}}
]},
{"width":435,"height":43,
"layer":[
{"data":{"name":"bands"},"mark":{"type":"rect","color":"#e9ecf1","opacity":0.6},
"encoding":{"x":{"field":"s","type":"temporal","title":null,"axis":null,"scale":{"type":"utc","padding":0,"domain":[{"year":2022,"month":4,"date":6,"hours":12,"utc":true},{"year":2022,"month":10,"date":8,"utc":true}]}},"x2":{"field":"e"}}},
{"data":{"name":"obv"},"mark":{"type":"line","color":"#e2b13e","strokeWidth":1.1},
"encoding":{"x":{"field":"d","type":"temporal","title":null},"y":{"field":"b","type":"quantitative","title":null,"scale":{"domain":[197,283],"nice":false,"zero":false},"axis":{"orient":"right","values":[200,225,250,275],"grid":true}}}},
{"data":{"name":"ticks"},"mark":{"type":"text","fontSize":5.5,"color":"#aaaaaa","align":"center","baseline":"middle"},
"encoding":{"x":{"field":"d","type":"temporal","title":null},"y":{"datum":188},"text":{"field":"t"}}},
{"data":{"values":[{"d":"2022-10-08","b":262,"t":"OBV"}]},"mark":{"type":"text","align":"right","baseline":"middle","dx":4,"fontSize":8,"color":"#e0ae3c"},
"encoding":{"x":{"field":"d","type":"temporal","title":null},"y":{"field":"b","type":"quantitative","title":null},"text":{"field":"t"}}},
{"data":{"values":[{"x1":"2022-10-18","x2":"2022-11-29","y1":275,"y2":223}]},"mark":{"type":"rect","fill":"white","stroke":"#8c8c8c","strokeWidth":0.8},
"encoding":{"x":{"field":"x1","type":"temporal","title":null},"x2":{"field":"x2"},"y":{"field":"y1","type":"quantitative","title":null},"y2":{"field":"y2"}}},
{"data":{"values":[{"xc":"2022-11-08","yc":259,"t":"OBV rising\nbuyers > sellers"}]},"mark":{"type":"text","lineBreak":"\n","lineHeight":10.5,"fontSize":7.5,"color":"#333333","align":"center","baseline":"middle"},
"encoding":{"x":{"field":"xc","type":"temporal","title":null},"y":{"field":"yc","type":"quantitative","title":null},"text":{"field":"t"}}}
]}
]
}
